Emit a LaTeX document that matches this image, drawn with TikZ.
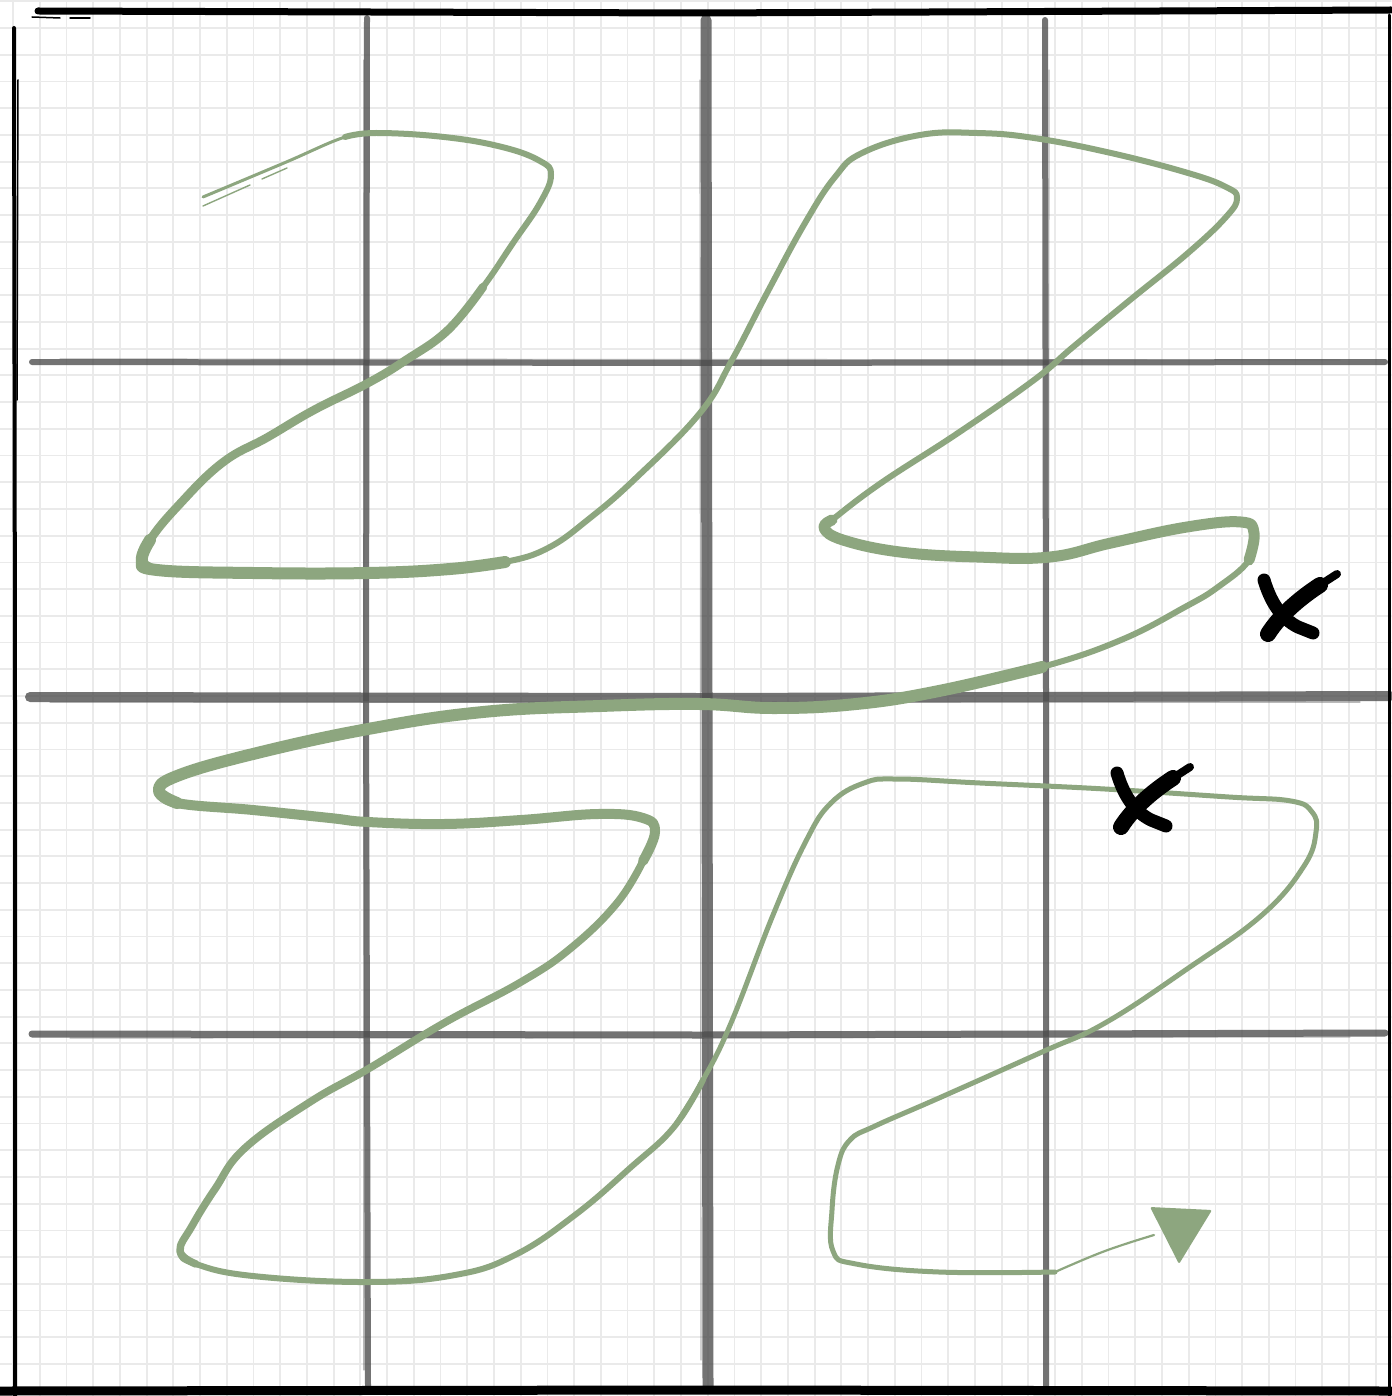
\documentclass[tikz,border=0pt]{standalone}
\definecolor{sage}{HTML}{8DA67F}
\definecolor{minorgrid}{HTML}{EAEAEA}
\begin{document}
\begin{tikzpicture}[x=1pt,y=-1pt,line cap=round,line join=round,
  majorline/.style={draw=black!70,opacity=0.78},
  sketchline/.style={draw=black!60,opacity=0.45,line width=1.2},
  borderline/.style={draw=black},
  curve/.style={draw=sage},
  xmark/.style={draw=black,line cap=round}]
\useasboundingbox (0,0) rectangle (1391,1396);
\fill[white] (0,0) rectangle (1391,1396);
% fine grid
\foreach \i in {0,...,51} {\draw[minorgrid,line width=1.8] ({13+26.72*\i},0) -- ({13+26.72*\i},1396);}
\foreach \i in {0,...,52} {\draw[minorgrid,line width=1.8] (0,{1.3+26.72*\i}) -- (1391,{1.3+26.72*\i});}
% major grid
\draw[majorline,line width=6] (367,18) -- (366,700) -- (368,1386);
\draw[sketchline] (364,60) -- (364,1370);
\draw[majorline,line width=11] (706,20) -- (707,700) -- (708,1386);
\draw[sketchline] (700,80) -- (701,1360);
\draw[majorline,line width=6] (1045,20) -- (1046,700) -- (1046,1386);
\draw[sketchline] (1049,70) -- (1048,1350);
\draw[majorline,line width=6] (32,362) -- (700,363) -- (1385,362);
\draw[sketchline] (60,359) -- (1340,360);
\draw[majorline,line width=10] (30,697) -- (700,698) -- (1390,696);
\draw[sketchline] (50,702) -- (1360,702);
\draw[majorline,line width=7] (32,1034) -- (700,1035) -- (1385,1033);
\draw[sketchline] (70,1038) -- (1350,1037);
% border
\draw[borderline,line width=7] (38,11) -- (700,13) -- (1391,10);
\draw[borderline,line width=1.5] (32,17) -- (60,18);
\draw[borderline,line width=1.5] (70,18) -- (90,18);
\draw[borderline,line width=4] (14,28) -- (15,700) -- (15,1396);
\draw[borderline,line width=1.5] (18,80) -- (17,400);
\draw[borderline,line width=3] (1389,15) -- (1389,1396);
\draw[borderline,line width=9] (0,1391) -- (700,1390) -- (1391,1391);
% green path: thin start
\draw[curve,line width=3] plot[smooth,tension=0.7] coordinates {(203,197) (284,163) (345,137) (376,133)};
\draw[curve,line width=1.4] (203,206) -- (250,185);
\draw[curve,line width=1.4] (262,179) -- (287,168);
% base path
\draw[curve,line width=6] plot[smooth,tension=0.7] coordinates {(345,137) (376,133) (444,137) (502,147) (540,161) (551,175) (540,203) (513,243) (483,287) (448,330) (406,360) (368,383) (314,410) (268,437) (222,463) (177,507) (150,540) (142,560) (157,570) (253,573) (368,573) (450,569) (505,562) (548,548) (590,518) (636,478) (700,413) (732,360) (767,293) (805,223) (835,177) (862,153) (920,135) (977,133) (1034,138) (1111,153) (1188,173) (1226,187) (1237,198) (1226,217) (1188,253) (1130,300) (1073,347) (1034,380) (958,433) (881,483) (832,520) (824,528) (843,540) (900,552) (977,557) (1050,557) (1111,543) (1187,527) (1241,522) (1254,533) (1249,560) (1218,587) (1185,607) (1121,640) (1042,667) (939,691) (856,704) (773,708) (700,704) (600,706) (483,712) (368,729) (253,754) (177,776) (159,791) (177,803) (253,810) (330,818) (368,822) (444,824) (521,820) (598,814) (643,818) (655,832) (643,861) (617,903) (571,948) (521,982) (444,1023) (368,1069) (310,1102) (245,1148) (215,1189) (192,1226) (180,1251) (196,1264) (253,1276) (368,1282) (455,1275) (515,1255) (575,1215) (630,1168) (674,1127) (703,1080)};
% thicker overlays
\draw[curve,line width=8.5] plot[smooth,tension=0.7] coordinates {(483,287) (448,330) (406,360) (368,383) (314,410) (268,437) (222,463) (177,507) (150,540) (142,560) (157,570)};
\draw[curve,line width=12] plot[smooth,tension=0.7] coordinates {(150,540) (142,560) (157,570) (253,573) (368,573) (450,569) (505,562)};
\draw[curve,line width=11] plot[smooth,tension=0.7] coordinates {(832,520) (824,528) (843,540) (900,552) (977,557) (1050,557) (1111,543) (1187,527) (1241,522) (1254,533) (1249,560)};
\draw[curve,line width=12] plot[smooth,tension=0.7] coordinates {(1042,667) (939,691) (856,704) (773,708) (700,704) (600,706) (483,712) (368,729) (253,754) (177,776) (159,791) (177,803)};
\draw[curve,line width=10] plot[smooth,tension=0.7] coordinates {(159,791) (177,803) (253,810) (330,818) (368,822) (444,824) (521,820) (598,814) (643,818) (655,832) (643,861)};
\draw[curve,line width=7.5] plot[smooth,tension=0.7] coordinates {(643,861) (617,903) (571,948) (521,982) (444,1023) (368,1069) (310,1102) (245,1148) (215,1189) (192,1226) (180,1251) (196,1264)};
% thinner end
\draw[curve,line width=5] plot[smooth,tension=0.7] coordinates {(674,1127) (703,1080) (731,1023) (773,915) (806,841) (831,803) (864,783) (897,779) (980,783) (1105,789) (1229,797) (1291,801) (1312,812) (1316,832) (1304,866) (1262,915) (1187,969) (1105,1023) (1042,1052) (939,1098) (875,1126) (850,1140) (838,1165) (832,1210) (833,1251) (856,1264) (939,1272) (1055,1272)};
\draw[curve,line width=2.2] plot[smooth,tension=0.7] coordinates {(1055,1272) (1105,1251) (1154,1235)};
% arrowhead
\fill[sage,rounded corners=2] (1150,1207) -- (1212,1210) -- (1179,1264) -- cycle;
% X marks
\foreach \dx/\dy in {0/0,-147/193} {
  \begin{scope}[shift={(\dx,\dy)}]
    \draw[xmark,line width=8] (1337,574) -- (1320,585);
    \draw[xmark,line width=16] (1320,585) .. controls (1300,598) and (1280,615) .. (1268,634);
    \draw[xmark,line width=13] (1264,580) .. controls (1270,600) and (1280,618) .. (1298,627) -- (1313,633);
  \end{scope}
}
\end{tikzpicture}
\end{document}
